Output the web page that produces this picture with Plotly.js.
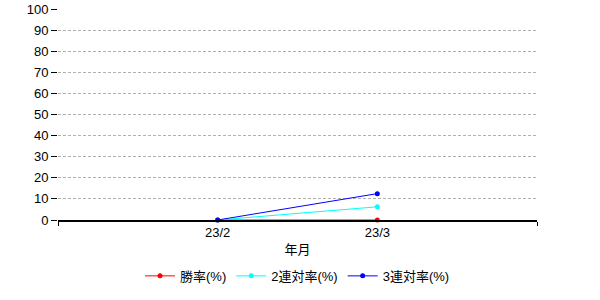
<!DOCTYPE html>
<html>
<head>
<meta charset="utf-8">
<script src="https://cdn.plot.ly/plotly-3.0.1.min.js"></script>
<style>html,body{margin:0;padding:0;background:#fff;}#chart{width:600px;height:300px;}</style>
</head>
<body>
<div id="chart"></div>
<script>
var months = ['23/2', '23/3'];
var winRate = [0, 0];
var top2Rate = [0, 6.25];
var top3Rate = [0, 12.5];
var seriesNames = ['勝率(%)', '2連対率(%)', '3連対率(%)'];
var seriesColors = ['#ff0000', '#00ffff', '#0000ff'];
var yTicks = [0, 10, 20, 30, 40, 50, 60, 70, 80, 90, 100];

var idx = months.map(function (m, i) { return i; });
var seriesVals = [winRate, top2Rate, top3Rate];
var traces = seriesVals.map(function (v, k) {
  return {
    x: idx, y: v, type: 'scatter', mode: 'lines+markers',
    name: seriesNames[k],
    line: {color: seriesColors[k], width: 1},
    marker: {color: seriesColors[k], size: 5},
    cliponaxis: false
  };
});

var font = {family: 'Liberation Sans, Noto Sans CJK JP, sans-serif', size: 13, color: '#000'};
var layout = {
  width: 600, height: 300,
  margin: {l: 58, r: 63, t: 9, b: 80},
  paper_bgcolor: '#fff', plot_bgcolor: '#fff',
  font: font,
  showlegend: true,
  legend: {orientation: 'h', x: 0.5, xanchor: 'center', y: -0.265, yanchor: 'middle',
           font: font, traceorder: 'normal', itemclick: false},
  xaxis: {
    range: [-1, 2], tickmode: 'array', tickvals: idx, ticktext: months,
    ticks: '', showgrid: false, zeroline: false,
    showline: true, linecolor: '#000', linewidth: 1.5,
    minor: {tickmode: 'array', tickvals: [-1, 2], ticks: 'outside', ticklen: 4, tickcolor: '#000', showgrid: false},
    title: {text: '年月', font: font, standoff: 6},
    tickfont: font, fixedrange: true
  },
  yaxis: {
    range: [0, 100], tickmode: 'array', tickvals: yTicks,
    ticks: 'outside', ticklen: 6, tickcolor: '#000', tickwidth: 1,
    showgrid: true, gridcolor: '#b0b0b0', griddash: '3px,2px', gridwidth: 1,
    zeroline: false, showline: false, tickfont: font, fixedrange: true
  }
};
Plotly.newPlot('chart', traces, layout, {displayModeBar: false, staticPlot: true});
</script>
</body>
</html>
